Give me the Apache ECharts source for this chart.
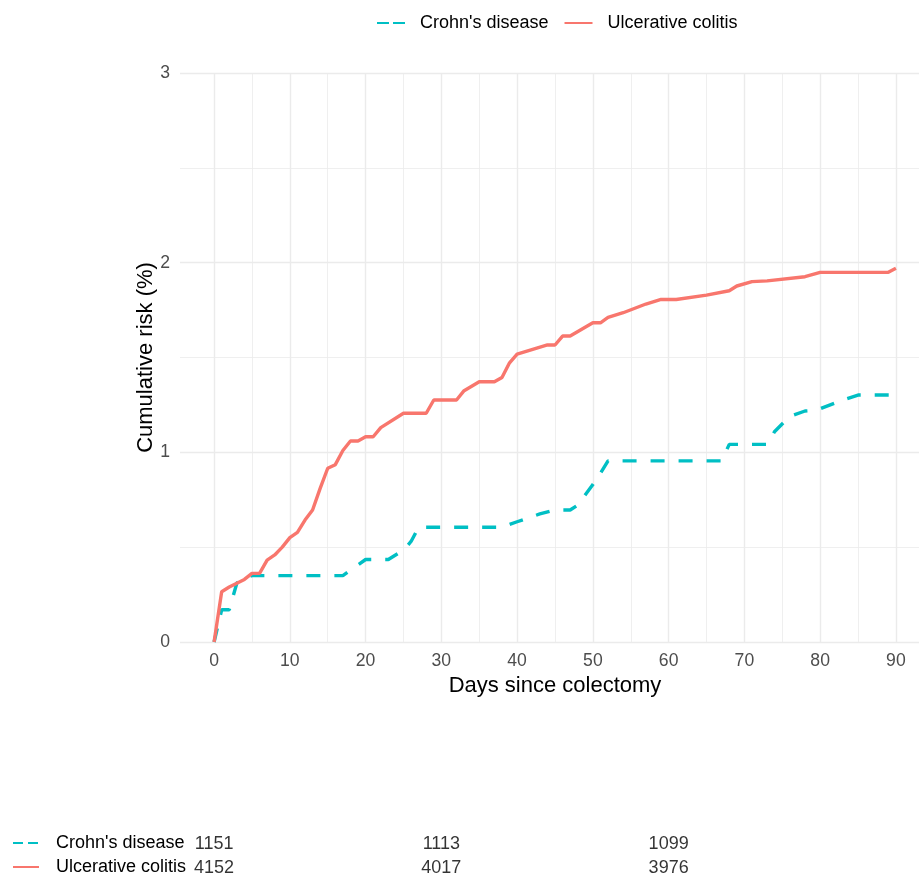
<!DOCTYPE html>
<html>
<head>
<meta charset="utf-8">
<script src="https://cdn.jsdelivr.net/npm/echarts@6/dist/echarts.min.js"></script>
<style>
  html, body { margin: 0; padding: 0; background: #fff; }
  #chart { width: 919px; height: 875px; }
</style>
</head>
<body>
<div id="chart"></div>
<script>
// 累积风险曲线 (day, %)
const cdCurve = [
    [0, 0], [1, 0.17], [2, 0.17], [3, 0.31], [4, 0.34], [5, 0.35], [17, 0.35],
    [20, 0.435], [23, 0.435], [25, 0.485], [26, 0.53], [27, 0.605], [38, 0.605],
    [40, 0.634], [43, 0.675], [45, 0.696], [47, 0.696], [48, 0.722], [50, 0.83],
    [51, 0.89], [52, 0.955], [67, 0.955], [68, 1.042], [73, 1.042], [74, 1.11],
    [76, 1.19], [78, 1.218], [79.5, 1.222], [83, 1.276], [85, 1.302], [90, 1.302]
];
const ucCurve = [
    [0, 0], [1, 0.265], [2, 0.29], [4, 0.33], [5, 0.362], [6, 0.362], [7, 0.432],
    [8, 0.459], [9, 0.50], [10, 0.55], [11, 0.578], [12, 0.643], [13, 0.696],
    [14, 0.81], [15, 0.916], [16, 0.935], [17, 1.01], [18, 1.06], [19, 1.06],
    [20, 1.082], [21, 1.082], [22, 1.13], [25, 1.206], [28, 1.206], [29, 1.276],
    [32, 1.276], [33, 1.325], [35, 1.372], [37, 1.372], [38, 1.395], [39, 1.472],
    [40, 1.518], [44, 1.566], [45, 1.566], [46, 1.613], [47, 1.613], [50, 1.683],
    [51, 1.683], [52, 1.711], [54, 1.736], [57, 1.782], [59, 1.806], [61, 1.806],
    [65, 1.829], [68, 1.852], [69, 1.877], [71, 1.90], [73, 1.904], [78, 1.926],
    [80, 1.949], [89, 1.949], [90, 1.97]
];

// 风险人数表
const atRiskDays = [0, 30, 60];
const cdAtRisk = [1151, 1113, 1099];
const ucAtRisk = [4152, 4017, 3976];

const groups = ["Crohn's disease", 'Ulcerative colitis'];
const xMajor = [0, 10, 20, 30, 40, 50, 60, 70, 80, 90];
const xMinor = [5, 15, 25, 35, 45, 55, 65, 75, 85];

const FONT = '"Liberation Sans", Arial, sans-serif';
const CD_COLOR = '#00BFC4';
const UC_COLOR = '#F8766D';
const GRID_COLOR = '#ebebeb';

const chart = echarts.init(document.getElementById('chart'));

const tableData = [];
atRiskDays.forEach((d, i) => {
    tableData.push([d, groups[0], cdAtRisk[i]]);
    tableData.push([d, groups[1], ucAtRisk[i]]);
});

const option = {
    backgroundColor: '#fff',
    animation: false,
    textStyle: { fontFamily: FONT },
    legend: [{
        data: [
            { name: groups[0], lineStyle: { type: [12, 4] } },
            { name: groups[1] }
        ],
        left: 376,
        top: 14,
        padding: 0,
        itemWidth: 28,
        itemHeight: 18,
        itemGap: 15,
        itemStyle: { opacity: 0 },
        textStyle: { fontSize: 18, color: '#000', padding: [0, 0, 0, 10] }
    }, {
        // 表格左侧的组别标签
        data: [
            { name: groups[0], lineStyle: { type: [10, 5] } },
            { name: groups[1] }
        ],
        orient: 'vertical',
        left: 12,
        top: 834,
        height: 80,
        padding: 0,
        itemWidth: 26,
        itemHeight: 16,
        itemGap: 6,
        selectedMode: false,
        itemStyle: { opacity: 0 },
        textStyle: { fontSize: 18, color: '#000', lineHeight: 16, padding: [0, 0, 0, 12] }
    }],
    grid: [{
        left: 180, right: -11, top: 73, bottom: 233,
        outerBoundsMode: 'none'
    }, {
        left: 180, right: -11, top: 832, height: 48,
        outerBoundsMode: 'none'
    }],
    xAxis: [{
        type: 'value',
        gridIndex: 0,
        min: -4.5,
        max: 94.5,
        name: 'Days since colectomy',
        nameLocation: 'middle',
        nameGap: 33,
        nameTextStyle: { fontSize: 22, color: '#000' },
        axisLine: { show: false },
        axisTick: { show: false, customValues: xMajor },
        axisLabel: { customValues: xMajor, fontSize: 17.6, color: '#4d4d4d', margin: 10 },
        splitLine: { show: true, lineStyle: { color: GRID_COLOR, width: 1.4 } }
    }, {
        // 次网格线
        type: 'value',
        gridIndex: 0,
        min: -4.5,
        max: 94.5,
        axisLine: { show: false },
        axisTick: { show: false, customValues: xMinor },
        axisLabel: { show: false },
        splitLine: { show: true, lineStyle: { color: GRID_COLOR, width: 0.8 } }
    }, {
        type: 'value',
        gridIndex: 1,
        min: -4.5,
        max: 94.5,
        show: false
    }],
    yAxis: [{
        type: 'value',
        gridIndex: 0,
        min: 0,
        max: 3,
        interval: 1,
        name: 'Cumulative risk (%)',
        nameLocation: 'middle',
        nameGap: 23,
        nameMoveOverlap: false,
        nameTextStyle: { fontSize: 22, color: '#000' },
        axisLine: { show: false },
        axisTick: { show: false },
        axisLabel: { fontSize: 17.6, color: '#4d4d4d', margin: 10 },
        splitLine: { show: true, lineStyle: { color: GRID_COLOR, width: 1.4 } },
        minorTick: { show: false, splitNumber: 2 },
        minorSplitLine: { show: true, lineStyle: { color: GRID_COLOR, width: 0.8 } }
    }, {
        type: 'category',
        gridIndex: 1,
        data: [groups[1], groups[0]],
        show: false
    }],
    series: [{
        name: groups[0],
        type: 'line',
        xAxisIndex: 0,
        yAxisIndex: 0,
        data: cdCurve,
        symbol: 'none',
        color: CD_COLOR,
        lineStyle: { color: CD_COLOR, width: 3.4, type: [14, 14] }
    }, {
        name: groups[1],
        type: 'line',
        xAxisIndex: 0,
        yAxisIndex: 0,
        data: ucCurve,
        symbol: 'none',
        color: UC_COLOR,
        lineStyle: { color: UC_COLOR, width: 3.4 }
    }, {
        name: 'at risk',
        type: 'scatter',
        xAxisIndex: 2,
        yAxisIndex: 1,
        data: tableData,
        symbolSize: 0,
        silent: true,
        label: {
            show: true,
            position: 'inside',
            formatter: p => String(p.value[2]),
            fontSize: 18,
            color: '#000'
        }
    }]
};

chart.setOption(option);

window.addEventListener('resize', function () {
    chart.resize();
});
</script>
</body>
</html>
